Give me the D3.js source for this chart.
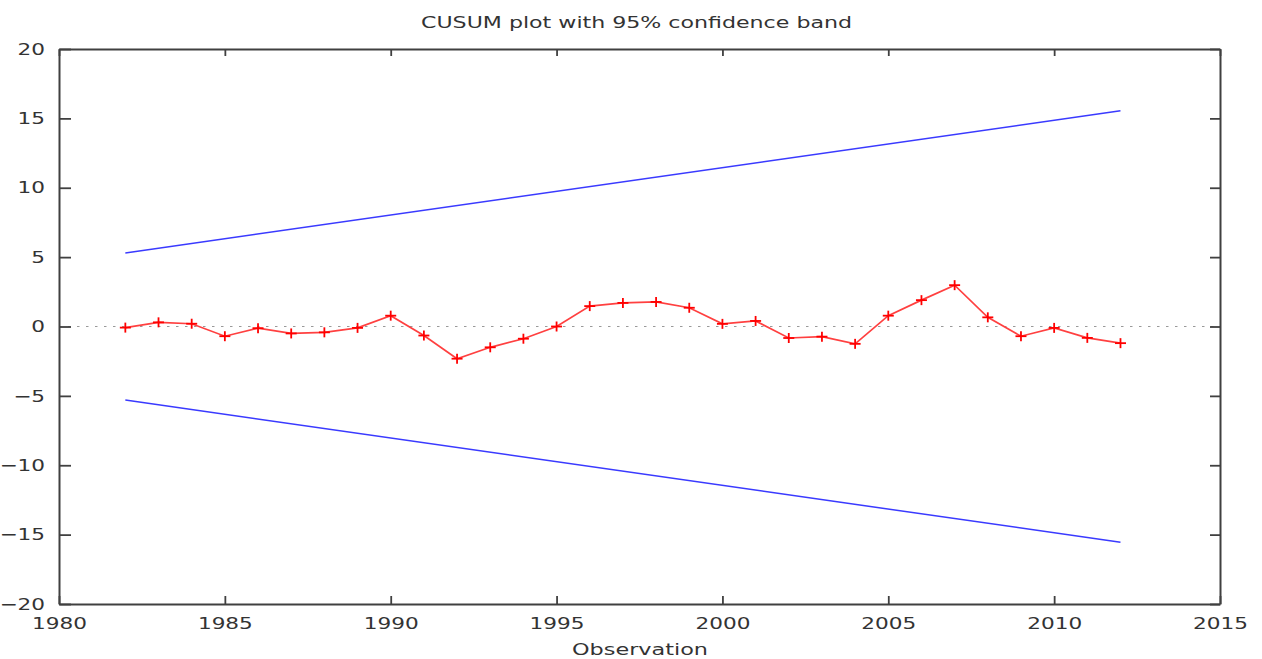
<!DOCTYPE html>
<html>
<head>
<meta charset="utf-8"/>
<style>
  body { margin: 0; background: #fff; }
  svg text { font-family: "DejaVu Sans", Verdana, sans-serif; fill: #333; }
</style>
</head>
<body>
<svg id="chart" width="1262" height="659"></svg>
<script src="https://d3js.org/d3.v7.min.js"></script>
<script>
// --- data ---
const years = [1982, 1983, 1984, 1985, 1986, 1987, 1988, 1989, 1990, 1991,
               1992, 1993, 1994, 1995, 1996, 1997, 1998, 1999, 2000, 2001,
               2002, 2003, 2004, 2005, 2006, 2007, 2008, 2009, 2010, 2011, 2012];
const cusum = [-0.08, 0.3, 0.2, -0.7, -0.12, -0.5, -0.42, -0.1, 0.78, -0.65,
               -2.32, -1.5, -0.88, 0.0, 1.47, 1.7, 1.77, 1.35, 0.19, 0.4,
               -0.83, -0.73, -1.25, 0.78, 1.9, 2.98, 0.66, -0.7, -0.1, -0.82, -1.2];
// confidence band (straight lines, start and end)
const bandYears = [1982, 2012];
const bandUpper = [5.3, 15.55];
const bandLower = [-5.3, -15.55];

const xTicks = [1980, 1985, 1990, 1995, 2000, 2005, 2010, 2015];
const yTicks = [-20, -15, -10, -5, 0, 5, 10, 15, 20];

const svg = d3.select("#chart");
const mLeft = 59, mRight = 1220, mTop = 49, mBottom = 604;
const stretch = 1.35; // the original text is drawn wide

const x = d3.scaleLinear().domain([1980, 2015]).range([mLeft, mRight]);
const y = d3.scaleLinear().domain([-20, 20]).range([mBottom, mTop]);

// zero line
svg.append("line")
   .attr("x1", x(1980)).attr("x2", x(2015))
   .attr("y1", y(0)).attr("y2", y(0))
   .attr("stroke", "#999").attr("stroke-width", 1.2)
   .attr("stroke-dasharray", "2.5,6.5");

// axes (ticks inward, mirrored on top/right)
function styleAxis(g) {
  g.select(".domain").attr("stroke", "#404040").attr("stroke-width", 2);
  g.selectAll(".tick line").attr("stroke", "#404040").attr("stroke-width", 1.8);
  g.selectAll(".tick text").attr("font-size", 16).attr("fill", "#333")
   .attr("font-family", "DejaVu Sans, Verdana, sans-serif");
}

svg.append("g")
   .attr("transform", `translate(0,${mBottom})`)
   .call(d3.axisBottom(x).tickValues(xTicks).tickFormat(d3.format("d"))
           .tickSizeInner(-8).tickSizeOuter(0).tickPadding(14))
   .call(styleAxis)
   .selectAll(".tick text").attr("transform", `scale(${stretch},1)`);

svg.append("g")
   .attr("transform", `translate(0,${mTop})`)
   .call(d3.axisTop(x).tickValues(xTicks).tickFormat("")
           .tickSizeInner(-7).tickSizeOuter(0))
   .call(styleAxis);

svg.append("g")
   .attr("transform", `translate(${mLeft},0)`)
   .call(d3.axisLeft(y).tickValues(yTicks).tickFormat(d3.format("d"))
           .tickSizeInner(-12).tickSizeOuter(0).tickPadding(14))
   .call(styleAxis)
   .selectAll(".tick text")
   .attr("x", -14 / stretch)
   .attr("transform", `scale(${stretch},1)`);

svg.append("g")
   .attr("transform", `translate(${mRight},0)`)
   .call(d3.axisRight(y).tickValues(yTicks).tickFormat("")
           .tickSizeInner(-10).tickSizeOuter(0))
   .call(styleAxis);

// band lines
const line = d3.line().x(d => x(d[0])).y(d => y(d[1]));
[bandUpper, bandLower].forEach(b => {
  svg.append("path")
     .datum(bandYears.map((yr, i) => [yr, b[i]]))
     .attr("d", line)
     .attr("fill", "none")
     .attr("stroke", "#3a3aff")
     .attr("stroke-width", 1.5);
});

// cusum series
const pts = years.map((yr, i) => [yr, cusum[i]]);
svg.append("path")
   .datum(pts)
   .attr("d", line)
   .attr("fill", "none")
   .attr("stroke", "#ff4040")
   .attr("stroke-width", 1.7);

const marks = svg.append("g").selectAll("g")
   .data(pts).enter().append("g")
   .attr("transform", d => `translate(${x(d[0])},${y(d[1])})`);
marks.append("line").attr("x1", -5.5).attr("x2", 5.5).attr("y1", 0).attr("y2", 0);
marks.append("line").attr("x1", 0).attr("x2", 0).attr("y1", -5).attr("y2", 5);
marks.selectAll("line").attr("stroke", "#ff0000").attr("stroke-width", 1.8);

// title and label
svg.append("text")
   .attr("x", 636.5).attr("y", 28)
   .attr("text-anchor", "middle")
   .attr("font-size", 16.5)
   .attr("textLength", 431).attr("lengthAdjust", "spacingAndGlyphs")
   .text("CUSUM plot with 95% confidence band");

svg.append("text")
   .attr("x", 640).attr("y", 655)
   .attr("text-anchor", "middle")
   .attr("font-size", 16.5)
   .attr("textLength", 136).attr("lengthAdjust", "spacingAndGlyphs")
   .text("Observation");
</script>
</body>
</html>
